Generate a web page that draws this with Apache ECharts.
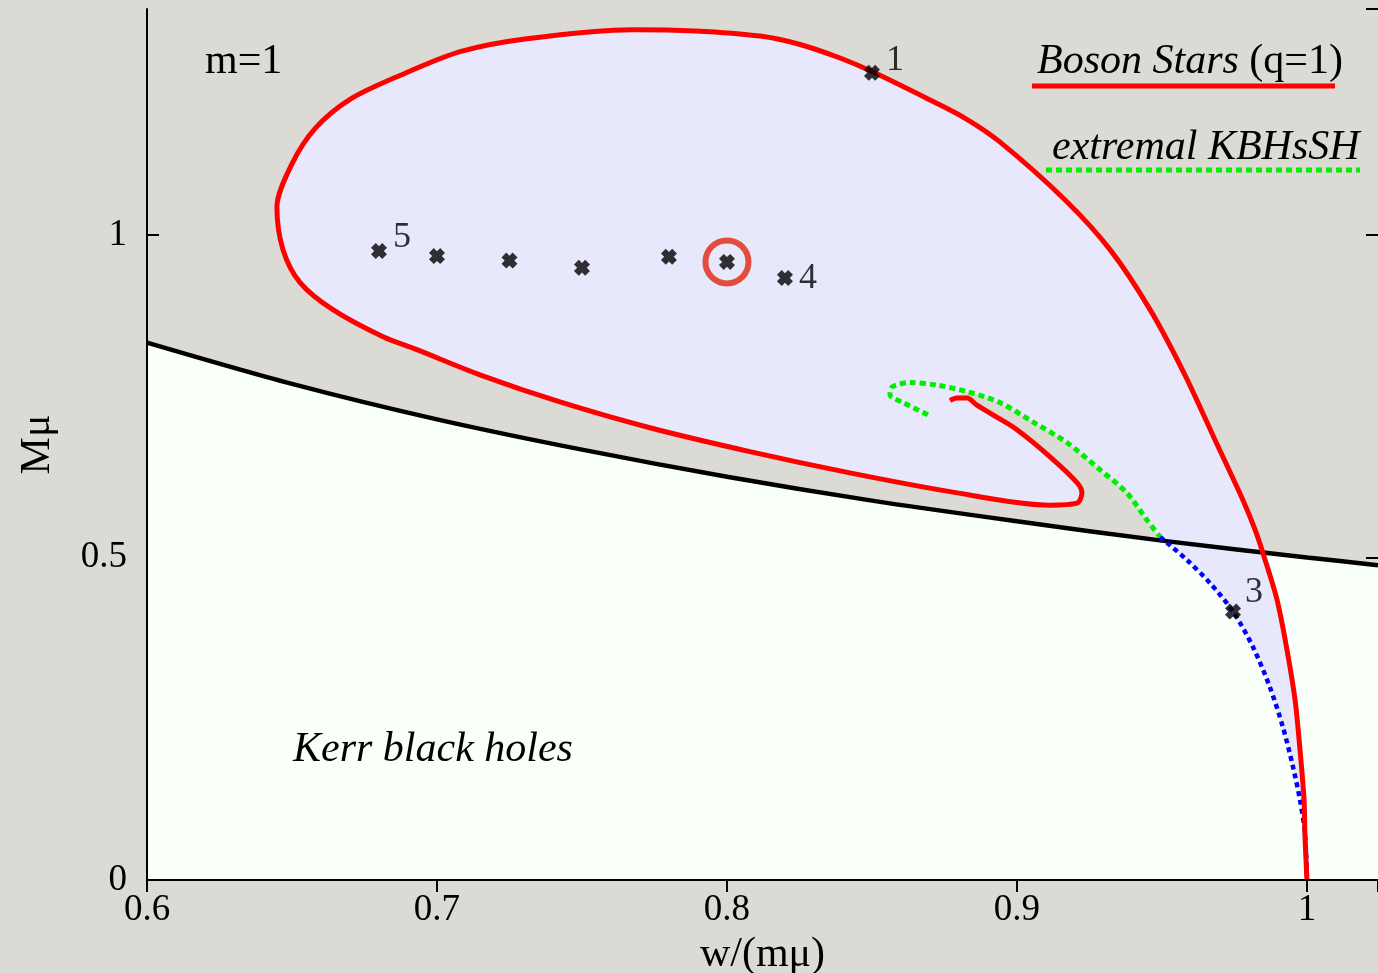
<!DOCTYPE html>
<html lang="en">
<head>
  <meta charset="UTF-8">
  <title>Boson stars and Kerr black holes</title>
  <script src="https://cdn.jsdelivr.net/npm/echarts@6.0.0/dist/echarts.min.js"></script>
  <style>
    html, body { margin: 0; padding: 0; background: #dcdad4; }
  </style>
</head>
<body>
<div id="chart" style="width: 1378px; height: 973px;"></div>

<script>
  // extremal Kerr line
  var kerrLine = [
    [0.6, 0.833], [0.65, 0.769], [0.7, 0.714], [0.75, 0.667], [0.8, 0.625],
    [0.85, 0.588], [0.9, 0.556], [0.95, 0.526], [1.0, 0.5], [1.0245, 0.488]
  ];

  // boson star curve (q=1), from w=1 round the loop into the spiral
  var bosonStars = [
    [1.0, 0.0], [0.9993, 0.07], [0.999, 0.124], [0.9976, 0.202], [0.9959, 0.279],
    [0.9931, 0.357], [0.9897, 0.434], [0.9848, 0.507], [0.9821, 0.543], [0.9779, 0.589],
    [0.9683, 0.682], [0.9579, 0.783], [0.9459, 0.884], [0.9321, 0.977], [0.9166, 1.054],
    [0.8941, 1.144], [0.8820, 1.181], [0.8700, 1.209], [0.85, 1.253],
    [0.839, 1.274], [0.8252, 1.295], [0.8114, 1.308], [0.7890, 1.316], [0.7676, 1.318],
    [0.731, 1.304], [0.7080, 1.284], [0.6872, 1.247], [0.6700, 1.210], [0.6580, 1.165],
    [0.6500, 1.110], [0.6448, 1.043], [0.6469, 0.977], [0.6528, 0.926], [0.6641, 0.884],
    [0.6814, 0.842], [0.6931, 0.822], [0.7148, 0.783], [0.7424, 0.741], [0.7734, 0.701],
    [0.8079, 0.664], [0.8424, 0.631], [0.8769, 0.602], [0.9114, 0.581], [0.9207, 0.584],
    [0.9224, 0.600], [0.9207, 0.616], [0.9114, 0.656], [0.900, 0.698], [0.8917, 0.721],
    [0.8862, 0.736], [0.8828, 0.747], [0.8793, 0.747], [0.8769, 0.743]
  ];

  // extremal KBHsSH (green dotted)
  var extremalHairy = [
    [0.8693, 0.721], [0.8607, 0.740], [0.8562, 0.752], [0.8569, 0.764], [0.8631, 0.771],
    [0.8724, 0.767], [0.8828, 0.757], [0.8941, 0.740], [0.9055, 0.710], [0.9172, 0.678],
    [0.9286, 0.636], [0.9379, 0.600], [0.9448, 0.558], [0.9493, 0.532]
  ];

  // existence line (blue dotted)
  var existenceLine = [
    [0.9493, 0.532], [0.9586, 0.496], [0.9666, 0.460], [0.9745, 0.416], [0.9814, 0.361],
    [0.9872, 0.299], [0.9917, 0.237], [0.9952, 0.175], [0.9976, 0.124], [0.9993, 0.073],
    [1.0, 0.0]
  ];

  // marked solutions
  var solX = [0.85, 0.68, 0.70, 0.725, 0.75, 0.78, 0.80, 0.82, 0.9745];
  var solY = [1.251, 0.975, 0.967, 0.960, 0.949, 0.966, 0.958, 0.933, 0.416];
  var solNames = ['1', '5', '', '', '', '', '', '4', '3'];
  var circled = [0.80, 0.958];

  var serif = 'Liberation Serif';
  var labelOffset = { '1': [2, -12], '5': [2, -13], '4': [2, 1], '3': [0, -19] };

  // domain of existence: boson curve, then the hairy line where it leaves the spiral, then the existence line
  var domain = bosonStars
    .concat(extremalHairy.filter(function (p) { return p[0] >= 0.88; }))
    .concat(existenceLine.slice(1));

  var chart = echarts.init(document.getElementById('chart'));

  var crossPath = 'path://M0,3L3,0L5,2L7,0L10,3L8,5L10,7L7,10L5,8L3,10L0,7L2,5Z';

  var solData = solX.map(function (x, i) {
    var d = { value: [x, solY[i]] };
    if (solNames[i]) {
      d.label = {
        show: true, formatter: solNames[i], position: 'right',
        offset: labelOffset[solNames[i]], distance: 4,
        fontFamily: serif, fontSize: 36, color: '#000'
      };
    }
    return d;
  });

  var option = {
    backgroundColor: '#dcdad4',
    animation: false,
    grid: { left: 147, right: 0, top: 9, bottom: 93, containLabel: false, outerBoundsMode: 'none' },
    xAxis: [{
      type: 'value', min: 0.6, max: 1.0245, interval: 0.1,
      position: 'bottom', z: 10,
      axisLine: { lineStyle: { color: '#000', width: 2 } },
      axisTick: { show: false },
      splitLine: { show: false },
      axisLabel: {
        showMaxLabel: false, margin: 12,
        fontFamily: serif, fontSize: 37, color: '#000',
        formatter: function (v) { return String(parseFloat(v.toFixed(2))); }
      },
      name: 'w/(mμ)', nameLocation: 'middle', nameGap: 42,
      nameTextStyle: { fontFamily: serif, fontSize: 42, color: '#000' }
    }, {
      type: 'value', min: 0.6, max: 1.0245, interval: 0.1,
      position: 'top', z: 10,
      axisLine: { lineStyle: { color: '#000', width: 2 } },
      axisTick: { inside: true, length: 12, lineStyle: { color: '#000', width: 2 } },
      axisLabel: { show: false },
      splitLine: { show: false }
    }],
    yAxis: [{
      type: 'value', min: 0, max: 1.35, interval: 0.5,
      position: 'left', z: 0,
      axisLine: { show: false },
      axisTick: { inside: true, length: 12, lineStyle: { color: '#000', width: 2 } },
      splitLine: { show: false },
      axisLabel: {
        showMaxLabel: false, margin: 20,
        fontFamily: serif, fontSize: 37, color: '#000'
      },
      name: 'Mμ', nameLocation: 'middle', nameGap: 88, nameRotate: 90,
      nameTextStyle: { fontFamily: serif, fontSize: 42, color: '#000' }
    }, {
      type: 'value', min: 0, max: 1.35, interval: 0.5,
      position: 'right', z: 10,
      axisLine: { show: false },
      axisTick: { inside: true, length: 12, lineStyle: { color: '#000', width: 2 } },
      axisLabel: { show: false },
      splitLine: { show: false }
    }, {
      type: 'value', min: 0, max: 1.35, interval: 0.5,
      position: 'left', offset: 0, z: 10,
      axisLine: { show: true, lineStyle: { color: '#000', width: 2 } },
      axisTick: { show: false },
      axisLabel: { show: false },
      splitLine: { show: false }
    }],
    series: [
      {
        // region below extremal Kerr
        type: 'line', data: kerrLine, showSymbol: false, silent: true, z: 1,
        lineStyle: { width: 0 }, smooth: 0.3,
        areaStyle: { color: '#f9fff9', opacity: 1 }
      },
      {
        type: 'custom', data: [[0.8, 1]], silent: true, z: 2, clip: true,
        renderItem: function (params, api) {
          var pts = domain.map(function (p) { return api.coord(p); });
          return { type: 'polygon', shape: { points: pts, smooth: 0.15 }, style: { fill: '#e8e8fc' } };
        }
      },
      {
        type: 'line', data: kerrLine, showSymbol: false, silent: true, z: 3, smooth: 0.3,
        lineStyle: { color: '#000', width: 4.5 }
      },
      {
        type: 'line', data: existenceLine, showSymbol: false, silent: true, z: 4, smooth: 0.3,
        lineStyle: { color: '#0000ff', width: 4.5, type: [5, 4], cap: 'butt' }
      },
      {
        type: 'line', data: bosonStars, showSymbol: false, silent: true, z: 5, smooth: 0.3,
        lineStyle: { color: '#ff0000', width: 5 }
      },
      {
        type: 'line', data: extremalHairy, showSymbol: false, silent: true, z: 6, smooth: 0.3,
        lineStyle: { color: '#00ee00', width: 5, type: [6, 4], cap: 'butt' }
      },
      {
        type: 'scatter', data: solData, symbol: crossPath, symbolSize: 16, z: 8,
        itemStyle: { color: '#000' }
      },
      {
        type: 'scatter', data: [circled], symbol: 'circle', symbolSize: 43, z: 7,
        itemStyle: { color: 'rgba(0,0,0,0)', borderColor: '#e0260c', borderWidth: 6 }
      }
    ],
    graphic: [
      {
        type: 'text', z: 20,
        style: { x: 205, y: 62, text: 'm=1', fontFamily: serif, fontSize: 42, fill: '#000', verticalAlign: 'middle' }
      },
      {
        type: 'text', z: 20,
        style: {
          x: 1037, y: 62, text: '{i|Boson Stars} (q=1)', verticalAlign: 'middle',
          fontFamily: serif, fontSize: 42, fill: '#000',
          rich: { i: { fontStyle: 'italic', fontFamily: serif, fontSize: 42, fill: '#000' } }
        }
      },
      {
        type: 'line', z: 20,
        shape: { x1: 1032, y1: 86, x2: 1335, y2: 86 },
        style: { stroke: '#ff0000', lineWidth: 5 }
      },
      {
        type: 'text', z: 20,
        style: { x: 1052, y: 148, text: 'extremal KBHsSH', fontFamily: serif, fontStyle: 'italic', fontSize: 42, fill: '#000', verticalAlign: 'middle' }
      },
      {
        type: 'line', z: 20,
        shape: { x1: 1046, y1: 170, x2: 1360, y2: 170 },
        style: { stroke: '#00ee00', lineWidth: 5, lineDash: [6, 4] }
      },
      {
        type: 'text', z: 20,
        style: { x: 293, y: 750, text: 'Kerr black holes', fontFamily: serif, fontStyle: 'italic', fontSize: 42, fill: '#000', verticalAlign: 'middle' }
      }
    ]
  };

  chart.setOption(option);
</script>
</body>
</html>
